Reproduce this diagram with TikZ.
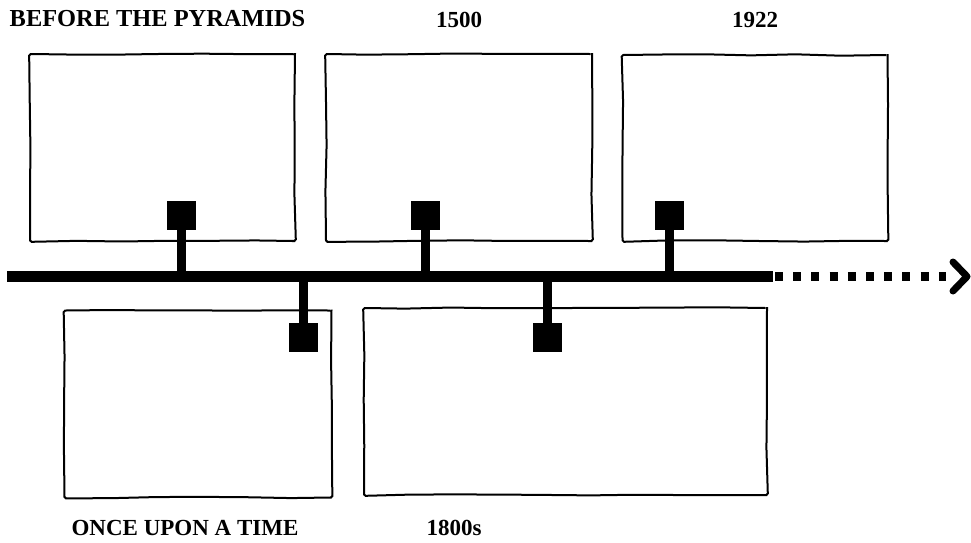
\documentclass[tikz,border=0pt]{standalone}
\usepackage{fontspec}
\setmainfont{Liberation Serif}
\usetikzlibrary{decorations.pathmorphing}
\begin{document}
\begin{tikzpicture}[x=1pt,y=-1pt,
  sketchbox/.style={draw=black, line width=2pt, rounded corners=1.5pt,
    decorate, decoration={random steps, segment length=45pt, amplitude=0.7pt},
    minimum width=#1, inner sep=0pt, outer sep=0pt},
  marker/.style={fill=black, minimum width=29pt, minimum height=29pt, inner sep=0pt, outer sep=0pt},
  stem/.style={line width=9pt},
  lbl/.style={font=\fontsize{23}{27}\selectfont\bfseries, inner sep=0pt}]
\pgfmathsetseed{7}
\useasboundingbox (0,0) rectangle (971,542);
% boxes
\node[sketchbox=265pt, minimum height=187pt] (b1) at (162.5,147.5) {};
\node[sketchbox=266pt, minimum height=187pt] (b2) at (459,147.5) {};
\node[sketchbox=265pt, minimum height=186pt] (b3) at (755,148) {};
\node[sketchbox=267pt, minimum height=187pt] (b4) at (198,404) {};
\node[sketchbox=403pt, minimum height=187pt] (b5) at (565.5,401.5) {};
% timeline
\coordinate (t0) at (7,276.5);
\coordinate (t1) at (773,276.5);
\coordinate (d0) at (775,276.5);
\coordinate (d1) at (946,276.5);
\coordinate (a0) at (953,262);
\coordinate (a1) at (967,276.5);
\coordinate (a2) at (953,291);
\draw[line width=11pt] (t0) -- (t1);
\draw[line width=9.5pt, dash pattern=on 8pt off 10.2pt] (d0) -- (d1);
\draw[line width=7pt, line cap=round, line join=round] (a0) -- (a1) -- (a2);
% markers
\node[marker] (m1) at (181.5,215.5) {};
\node[marker] (m2) at (425.5,215.5) {};
\node[marker] (m3) at (669.5,215.5) {};
\node[marker] (m4) at (303,337) {};
\node[marker] (m5) at (547,337) {};
\coordinate (j1) at (181.5,276.5);
\coordinate (j2) at (425.5,276.5);
\coordinate (j3) at (669.5,276.5);
\coordinate (j4) at (303,276.5);
\coordinate (j5) at (547,276.5);
\draw[stem] (m1.south) -- (j1);
\draw[stem] (m2.south) -- (j2);
\draw[stem] (m3.south) -- (j3);
\draw[stem] (m4.north) -- (j4);
\draw[stem] (m5.north) -- (j5);
% labels
\node[lbl, font=\fontsize{24.4}{28}\selectfont\bfseries] (l1) at (157.5,19) {BEFORE THE PYRAMIDS};
\node[lbl] (l2) at (459,20) {1500};
\node[lbl] (l3) at (755,20) {1922};
\node[lbl] (l4) at (185,528) {ONCE UPON A TIME};
\node[lbl] (l5) at (454,528) {1800s};
\end{tikzpicture}
\end{document}
